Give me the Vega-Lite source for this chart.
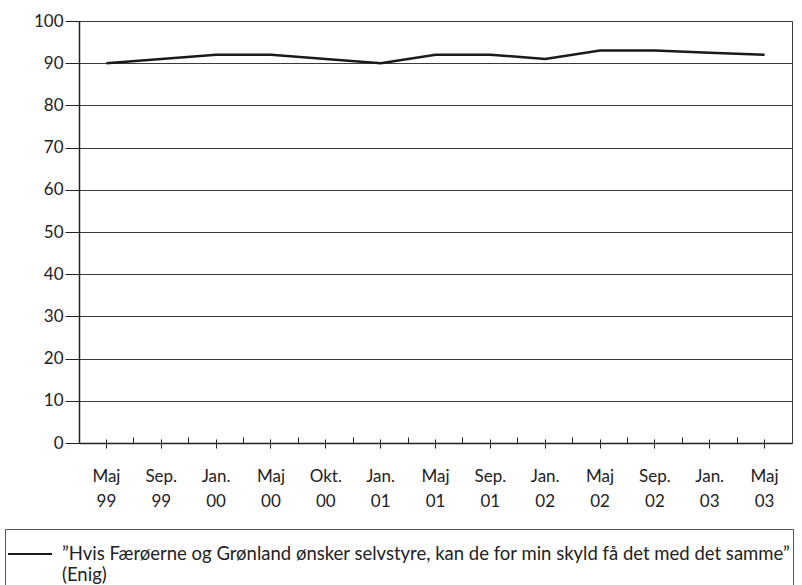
{
  "$schema": "https://vega.github.io/schema/vega-lite/v6.json",
  "width": 713,
  "height": 422,
  "autosize": {"type": "none"},
  "padding": {"left": 79, "top": 21, "right": 10, "bottom": 142},
  "background": "white",
  "config": {
    "font": "Lato",
    "view": {"stroke": "#3a3a3a", "strokeWidth": 1},
    "axis": {"labelFont": "Lato", "labelFontSize": 17, "labelColor": "#222"},
    "legend": {"labelFont": "Lato", "labelFontSize": 18.5, "labelColor": "#222"}
  },
  "data": {
    "values": [
      {"period": "Maj 99", "value": 90, "series": "”Hvis Færøerne og Grønland ønsker selvstyre, kan de for min skyld få det med det samme”|(Enig)"},
      {"period": "Sep. 99", "value": 91, "series": "”Hvis Færøerne og Grønland ønsker selvstyre, kan de for min skyld få det med det samme”|(Enig)"},
      {"period": "Jan. 00", "value": 92, "series": "”Hvis Færøerne og Grønland ønsker selvstyre, kan de for min skyld få det med det samme”|(Enig)"},
      {"period": "Maj 00", "value": 92, "series": "”Hvis Færøerne og Grønland ønsker selvstyre, kan de for min skyld få det med det samme”|(Enig)"},
      {"period": "Okt. 00", "value": 91, "series": "”Hvis Færøerne og Grønland ønsker selvstyre, kan de for min skyld få det med det samme”|(Enig)"},
      {"period": "Jan. 01", "value": 90, "series": "”Hvis Færøerne og Grønland ønsker selvstyre, kan de for min skyld få det med det samme”|(Enig)"},
      {"period": "Maj 01", "value": 92, "series": "”Hvis Færøerne og Grønland ønsker selvstyre, kan de for min skyld få det med det samme”|(Enig)"},
      {"period": "Sep. 01", "value": 92, "series": "”Hvis Færøerne og Grønland ønsker selvstyre, kan de for min skyld få det med det samme”|(Enig)"},
      {"period": "Jan. 02", "value": 91, "series": "”Hvis Færøerne og Grønland ønsker selvstyre, kan de for min skyld få det med det samme”|(Enig)"},
      {"period": "Maj 02", "value": 93, "series": "”Hvis Færøerne og Grønland ønsker selvstyre, kan de for min skyld få det med det samme”|(Enig)"},
      {"period": "Sep. 02", "value": 93, "series": "”Hvis Færøerne og Grønland ønsker selvstyre, kan de for min skyld få det med det samme”|(Enig)"},
      {"period": "Jan. 03", "value": 92.5, "series": "”Hvis Færøerne og Grønland ønsker selvstyre, kan de for min skyld få det med det samme”|(Enig)"},
      {"period": "Maj 03", "value": 92, "series": "”Hvis Færøerne og Grønland ønsker selvstyre, kan de for min skyld få det med det samme”|(Enig)"}
    ]
  },
  "layer": [
    {
      "mark": {"type": "line", "strokeWidth": 2.5, "opacity": 0},
      "encoding": {
        "x": {
          "field": "period", "type": "nominal", "sort": null,
          "scale": {"type": "band", "paddingInner": 0, "paddingOuter": 0},
          "axis": {
            "orient": "bottom", "title": null, "labels": false, "domain": true,
            "domainColor": "#222", "domainWidth": 1.5,
            "bandPosition": 0, "tickSize": -6, "tickColor": "#222", "tickWidth": 1, "grid": false
          }
        },
        "y": {
          "field": "value", "type": "quantitative",
          "scale": {"domain": [0, 100], "nice": false},
          "axis": {
            "title": null, "values": [0, 10, 20, 30, 40, 50, 60, 70, 80, 90, 100],
            "grid": true, "gridColor": "#3a3a3a", "gridWidth": 1, "gridOpacity": 1,
            "domain": true, "domainColor": "#222", "domainWidth": 1.5,
            "tickSize": 14, "tickColor": "#222", "labelPadding": 2
          }
        }
      }
    },
    {
      "mark": {"type": "line", "strokeWidth": 2.5, "color": "#1a1a1a"},
      "encoding": {
        "x": {
          "field": "period", "type": "nominal", "sort": null,
          "scale": {"type": "band", "paddingInner": 0, "paddingOuter": 0},
          "axis": {
            "orient": "bottom", "title": null, "labelAngle": 0, "domain": false,
            "offset": -4, "tickSize": 9, "tickColor": "#222", "tickWidth": 1,
            "labelPadding": 20, "labelBaseline": "top", "labelLineHeight": 25,
            "labelExpr": "split(datum.label, ' ')", "grid": false
          }
        },
        "y": {
          "field": "value", "type": "quantitative",
          "scale": {"domain": [0, 100], "nice": false},
          "axis": {
            "title": null, "values": [0, 10, 20, 30, 40, 50, 60, 70, 80, 90, 100],
            "grid": true, "gridColor": "#3a3a3a", "gridWidth": 1, "gridOpacity": 1,
            "domain": true, "domainColor": "#222", "domainWidth": 1.5,
            "tickSize": 14, "tickColor": "#222", "labelPadding": 2
          }
        },
        "color": {
          "field": "series", "type": "nominal",
          "scale": {"range": ["#1a1a1a"]},
          "legend": {
            "title": null, "orient": "none", "legendX": -74, "legendY": 508,
            "strokeColor": "#555", "padding": 2, "symbolType": "stroke",
            "symbolSize": 1936, "symbolStrokeWidth": 2, "labelLimit": 0,
            "labelOffset": 9, "labelBaseline": "middle",
            "labelExpr": "split(datum.label, '|')"
          }
        }
      }
    }
  ],
  "resolve": {"axis": {"x": "independent"}}
}
